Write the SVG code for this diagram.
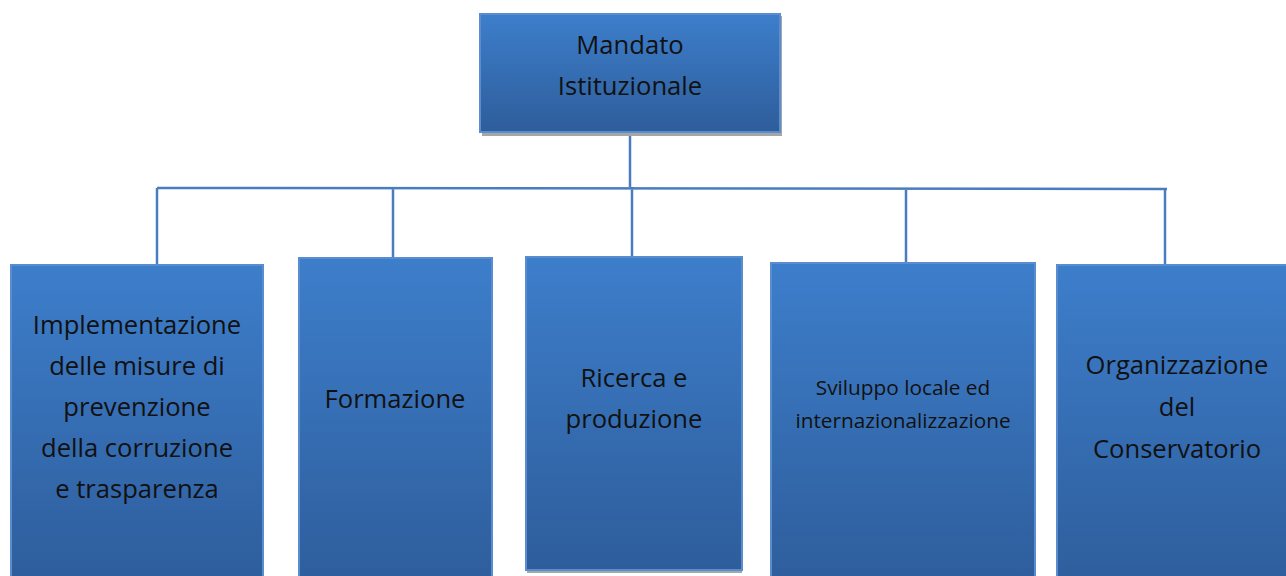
<svg xmlns="http://www.w3.org/2000/svg" width="1286" height="576" viewBox="0 0 1286 576">
<defs>
<linearGradient id="g" x1="0" y1="0" x2="0" y2="1">
<stop offset="0" stop-color="#3d7ecb"/>
<stop offset="1" stop-color="#2e5d9b"/>
</linearGradient>
<style>
.box{fill:url(#g);stroke:#5a8dd0;stroke-width:2}
.sh{fill:#a6a6a6}
.t{font-family:"Open Sans",Lato,"Liberation Sans",sans-serif;font-size:25.6px;fill:#111;text-anchor:middle}
.s{font-size:20.8px}
.c{stroke:#4a7cc0;stroke-width:2.5;fill:none}
</style>
</defs>
<rect width="1286" height="576" fill="#fff"/>
<g id="connectors">
<path class="c" d="M630 132V187M157 188L1167 189M157 188V265M393 188V258M632 187V257M906 188V263M1165 189V265"/>
</g>
<g id="node-top">
<rect class="sh" x="482" y="16" width="300" height="120"/>
<rect class="box" x="480" y="14" width="300" height="118"/>
<text class="t" x="630" y="54">Mandato</text>
<text class="t" x="630" y="95">Istituzionale</text>
</g>
<g id="node-1">
<rect class="box" x="11" y="265" width="252" height="320"/>
<text class="t" x="137" y="334">Implementazione</text>
<text class="t" x="137" y="375">delle misure di</text>
<text class="t" x="137" y="416">prevenzione</text>
<text class="t" x="137" y="457">della corruzione</text>
<text class="t" x="137" y="498">e trasparenza</text>
</g>
<g id="node-2">
<rect class="box" x="299" y="258" width="193" height="330"/>
<text class="t" x="395" y="408">Formazione</text>
</g>
<g id="node-3">
<rect class="sh" x="527" y="259" width="215" height="314"/>
<rect class="box" x="526" y="257" width="216" height="313"/>
<text class="t" x="634" y="387">Ricerca e</text>
<text class="t" x="634" y="428">produzione</text>
</g>
<g id="node-4">
<rect class="box" x="771" y="263" width="264" height="325"/>
<text class="t s" x="903" y="395">Sviluppo locale ed</text>
<text class="t s" x="903" y="428">internazionalizzazione</text>
</g>
<g id="node-5">
<rect class="box" x="1057" y="265" width="232" height="325"/>
<text class="t" x="1177" y="374">Organizzazione</text>
<text class="t" x="1177" y="416">del</text>
<text class="t" x="1177" y="458">Conservatorio</text>
</g>
</svg>
